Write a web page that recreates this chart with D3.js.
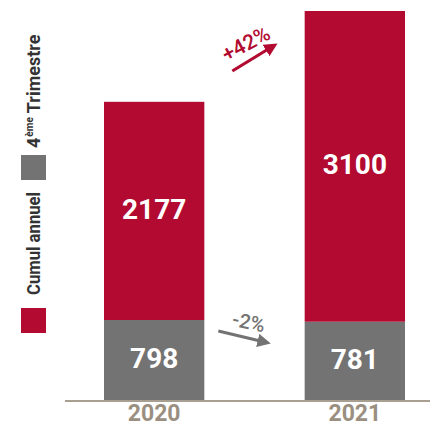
<!DOCTYPE html>
<html><head><meta charset="utf-8">
<script src="https://cdn.jsdelivr.net/npm/d3@7"></script>
<style>html,body{margin:0;padding:0;background:#fff;}svg{display:block;}</style>
</head><body>
<div id="chart"></div>
<script>
// Data
const years = ["2020", "2021"];
const cumulAnnuel = [2177, 3100];
const quatriemeTrimestre = [798, 781];
const seriesNames = ["Cumul annuel", "4ème Trimestre"];
const changeLabels = ["-2%", "+42%"];

const W = 432, H = 428;
const RED = "#b20a30", GRAY = "#737373", AXIS = "#a89f90", YEARC = "#9a8f80";
const svg = d3.select("#chart").append("svg").attr("width", W).attr("height", H)
  .style("font-family", "Roboto, 'Liberation Sans', sans-serif");

const x = d3.scaleBand().domain(years).range([104, 405]).paddingInner(0.5).paddingOuter(0);
const totals = years.map((y, i) => cumulAnnuel[i] + quatriemeTrimestre[i]);
const y = d3.scaleLinear().domain([0, d3.max(totals)]).range([400, 11]);

const rows = years.map((yr, i) => ({year: yr, q4: quatriemeTrimestre[i], cumul: cumulAnnuel[i]}));
const stack = d3.stack().keys(["q4", "cumul"])(rows);
const colors = {q4: GRAY, cumul: RED};

const g = svg.append("g");
stack.forEach(layer => {
  g.selectAll(null).data(layer).enter().append("rect")
    .attr("x", d => x(d.data.year))
    .attr("width", x.bandwidth())
    .attr("y", d => y(d[1]))
    .attr("height", d => y(d[0]) - y(d[1]))
    .attr("fill", colors[layer.key]);
  g.selectAll(null).data(layer).enter().append("text")
    .attr("x", d => x(d.data.year) + x.bandwidth() / 2)
    .attr("y", d => (y(d[0]) + y(d[1])) / 2 + 8)
    .attr("text-anchor", "middle")
    .attr("fill", "#fff")
    .attr("font-size", 28)
    .attr("font-weight", 700)
    .text(d => d.data[layer.key]);
});

// axis line
svg.append("line").attr("x1", 65).attr("x2", 430).attr("y1", 401).attr("y2", 401)
  .attr("stroke", AXIS).attr("stroke-width", 1.8);
// year labels
const xAxis = d3.axisBottom(x).tickSize(0).tickPadding(0);
const ax = svg.append("g").attr("transform", "translate(0,403)").call(xAxis);
ax.select(".domain").remove();
ax.selectAll("text").attr("font-size", 23).attr("font-weight", 700).attr("fill", YEARC)
  .attr("font-family", "Roboto, sans-serif").attr("dy", "0.78em");

// legend
const leg = svg.append("g");
leg.append("rect").attr("x", 21).attr("y", 308).attr("width", 25).attr("height", 25).attr("fill", RED);
leg.append("rect").attr("x", 21).attr("y", 155).attr("width", 25).attr("height", 25).attr("fill", GRAY);
leg.append("text").attr("transform", "translate(40,295) rotate(-90)")
  .attr("font-size", 18).attr("font-weight", 700).attr("fill", "#333")
  .attr("textLength", 103).attr("lengthAdjust", "spacingAndGlyphs")
  .text(seriesNames[0]);
const t2 = leg.append("text").attr("transform", "translate(40,148) rotate(-90)")
  .attr("font-size", 18).attr("font-weight", 700).attr("fill", "#333");
t2.append("tspan").text("4");
t2.append("tspan").attr("font-size", 10).attr("dy", -7).attr("dx", 1).text("ème");
t2.append("tspan").attr("dy", 7).attr("dx", 4).text("Trimestre");

// arrows
const defs = svg.append("defs");
[["redHead", RED], ["grayHead", GRAY]].forEach(([id, c]) => {
  defs.append("marker").attr("id", id).attr("viewBox", "0 0 10 10").attr("refX", 2).attr("refY", 5)
    .attr("markerWidth", 4.2).attr("markerHeight", 4.2).attr("orient", "auto")
    .append("path").attr("d", "M0,0 L10,5 L0,10 Z").attr("fill", c);
});
const gapL = x("2020") + x.bandwidth(), gapR = x("2021");
// +42%
svg.append("line").attr("x1", gapL + 28).attr("y1", 71).attr("x2", gapL + 64).attr("y2", 49)
  .attr("stroke", RED).attr("stroke-width", 3.2).attr("marker-end", "url(#redHead)");
svg.append("text").attr("transform", `translate(${gapL + 45},50) rotate(-28)`)
  .attr("text-anchor", "middle").attr("font-size", 21).attr("font-weight", 500).attr("fill", RED)
  .text(changeLabels[1]);
// -2%
svg.append("line").attr("x1", gapL + 14).attr("y1", 331).attr("x2", gapL + 56).attr("y2", 341)
  .attr("stroke", GRAY).attr("stroke-width", 3.2).attr("marker-end", "url(#grayHead)");
svg.append("text").attr("transform", `translate(${gapL + 43},329) rotate(12)`)
  .attr("text-anchor", "middle").attr("font-size", 20).attr("font-weight", 500).attr("fill", GRAY)
  .text(changeLabels[0]);
</script>
</body></html>
